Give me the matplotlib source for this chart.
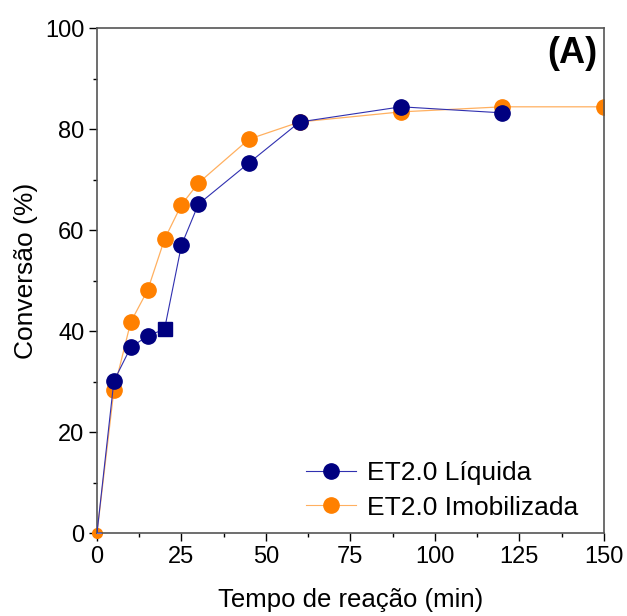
import matplotlib
matplotlib.use("Agg")
import matplotlib.pyplot as plt
from matplotlib.lines import Line2D
from matplotlib.ticker import MultipleLocator

plt.rcParams["font.family"] = ["Liberation Sans", "DejaVu Sans"]

# Reaction time (min) and conversion (%)
tempo = [0, 5, 10, 15, 20, 25, 30, 45, 60, 90, 120]
liquida = [0, 30.1, 36.8, 39.0, 40.4, 57.0, 65.1, 73.3, 81.4, 84.4, 83.2]
liquida_err = [0, 1.2, 0.8, 0.8, 0.8, 0.8, 1.2, 0.6, 0.6, 0.6, 0.6]

tempo_imob = [0, 5, 10, 15, 20, 25, 30, 45, 60, 90, 120, 150]
imobilizada = [0, 28.3, 41.8, 48.1, 58.2, 65.0, 69.3, 78.0, 81.4, 83.4, 84.4, 84.4]
imobilizada_err = [0, 1.2, 0.6, 0.6, 0.6, 0.6, 0.6, 0.6, 0.6, 0.6, 0.6, 0.6]

blue = "#000080"
orange = "#ff8000"
orange_line = "#ffb060"
blue_line = "#3030b0"

fig = plt.figure(figsize=(6.27, 6.16), dpi=100)
ax = fig.add_axes([0.1547, 0.1347, 0.8083, 0.8198])

# orange series
ax.errorbar(tempo_imob, imobilizada, yerr=imobilizada_err, fmt="none",
            ecolor=orange_line, elinewidth=0.6, capsize=3, zorder=1)
ax.plot(tempo_imob, imobilizada, color=orange_line, linewidth=0.9, zorder=2)
ax.plot(tempo_imob[1:], imobilizada[1:], color=orange, marker="o",
        markersize=11, linestyle="none", zorder=2)
ax.plot(tempo_imob[0], imobilizada[0], color=orange, marker="o",
        markersize=7, linestyle="none", zorder=2, clip_on=False)

# blue series (20 min point drawn as a square)
circ = [i for i in range(1, len(tempo)) if i != 4]
ax.errorbar(tempo, liquida, yerr=liquida_err, fmt="none",
            ecolor="#7070d0", elinewidth=0.6, capsize=3, zorder=3)
ax.plot(tempo, liquida, color=blue_line, linewidth=0.8, zorder=3)
ax.plot([tempo[i] for i in circ], [liquida[i] for i in circ], color=blue,
        marker="o", markersize=11, linestyle="none", zorder=4)
ax.plot(tempo[4], liquida[4], marker="s", markersize=10, color=blue,
        linestyle="none", zorder=4)

ax.set_xlim(0, 150)
ax.set_ylim(0, 100)
ax.xaxis.set_major_locator(MultipleLocator(25))
ax.xaxis.set_minor_locator(MultipleLocator(12.5))
ax.yaxis.set_major_locator(MultipleLocator(20))
ax.yaxis.set_minor_locator(MultipleLocator(10))
ax.tick_params(which="major", direction="out", length=6, width=1,
               labelsize=17, top=False, right=False, pad=3)
ax.tick_params(which="minor", direction="out", length=3, width=1,
               top=False, right=False)
for s in ax.spines.values():
    s.set_color("#555555")
    s.set_linewidth(1.2)

ax.set_xlabel("Tempo de reação (min)", fontsize=18.5, labelpad=15)
ax.set_ylabel("Conversão (%)", fontsize=19, labelpad=3)
ax.yaxis.set_label_coords(-0.117, 0.52)
ax.text(0.987, 0.985, "(A)", transform=ax.transAxes, ha="right", va="top",
        fontsize=26, fontweight="bold")

handles = [
    Line2D([], [], color=blue_line, linewidth=0.8, marker="o",
           markerfacecolor=blue, markeredgecolor=blue, markersize=11),
    Line2D([], [], color=orange_line, linewidth=0.8, marker="o",
           markerfacecolor=orange, markeredgecolor=orange, markersize=11),
]
ax.legend(handles, ["ET2.0 Líquida", "ET2.0 Imobilizada"], loc="lower right",
          bbox_to_anchor=(0.98, -0.005), frameon=False, fontsize=19,
          handlelength=1.9, handletextpad=0.4, borderaxespad=0.1,
          labelspacing=0.4, borderpad=0.5)

fig.savefig("out.png", dpi=100)
